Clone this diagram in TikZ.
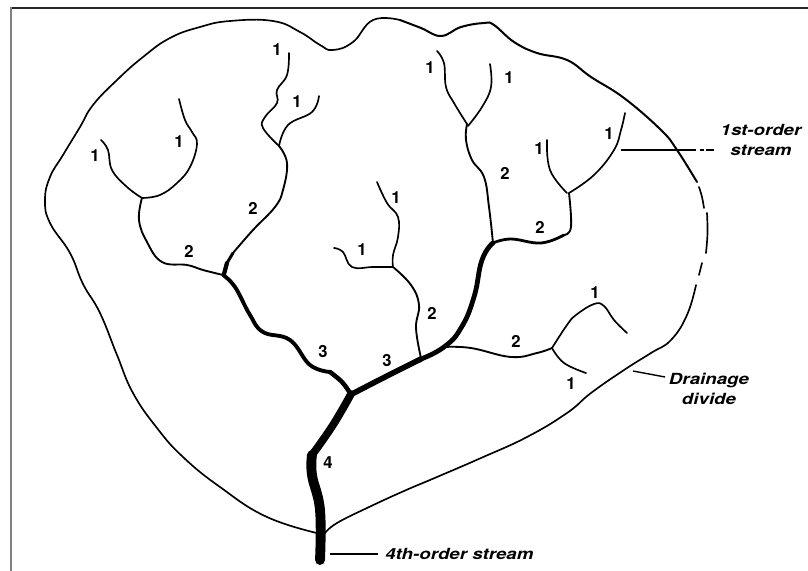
\documentclass[tikz,border=0pt]{standalone}
\usepackage{fontspec}
\setmainfont{TeX Gyre Heros}
\newfontfamily\widefont[FakeStretch=1.22]{TeX Gyre Heros}
\usetikzlibrary{positioning}

\begin{document}
\begin{tikzpicture}[x=0.75pt, y=-0.75pt, line join=round, line cap=round,
    divide/.style={line width=1.25pt},
    divideb/.style={line width=1.5pt},
    rill/.style={line width=1.25pt},
    brook/.style={line width=1.4pt},
    leader/.style={line width=1.05pt, line cap=butt},
    order/.style={font=\fontsize{12.5}{12.5}\selectfont\bfseries, inner sep=0pt},
    callout/.style={font=\fontsize{11.5}{15}\selectfont\widefont\bfseries\itshape, align=center, inner sep=0pt}]
    \useasboundingbox (0,0) rectangle (808,571);
    \fill[white] (0,0) rectangle (808,571);

    \draw[line width=1.5pt, black!85, line cap=butt] (10.5,7.5) -- (808,7.5);
    \draw[line width=1.4pt, black!50, line cap=butt] (11,7) -- (11,571);

    \draw[divide] plot[smooth, tension=0.75] coordinates {(321,534) (267,517) (220,487) (183,457) (157,428) (133,393) (117,355) (100,313) (83,284) (70,253) (50,223) (45,200) (50,177) (63,155) (80,127) (93,105) (117,80) (143,57) (170,38) (200,27) (230,21) (273,21) (300,32) (320,45) (333,50) (353,42) (373,20) (400,20)};
    \draw[divideb] plot[smooth, tension=0.7] coordinates {(400,20) (421,28) (441,36) (461,27) (484,23) (494,25) (514,42) (537,53) (567,60) (591,77) (624,98) (661,130) (677,150) (697,182)};
    \draw[divide] plot[smooth, tension=0.7] coordinates {(699,187) (702,197) (704,208)};
    \draw[divide] plot[smooth, tension=0.7] coordinates {(707,213) (707.5,233) (706,253)};
    \draw[divide] (702,263) -- (699,275);
    \draw[divide] plot[smooth, tension=0.75] coordinates {(696,285) (687,315) (671,340) (651,353) (624,370) (591,393) (567,413) (527,437) (481,458) (437,477) (404,491) (367,508) (337,523) (325,533)};

    \draw[rill] plot[smooth, tension=0.7] coordinates {(101,140) (108,150) (112,170) (127,187) (142,198)};
    \draw[rill] plot[smooth, tension=0.7] coordinates {(179,99) (185,120) (192,132) (197,144) (190,167) (177,183) (160,195) (142,198)};
    \draw[brook] plot[smooth, tension=0.7] coordinates {(142,198) (139,220) (147,242) (162,262) (187,265) (203,270) (223,275)};
    \draw[rill] plot[smooth, tension=0.7] coordinates {(289,53) (287,75) (277,90) (277,103) (265,117) (263,128) (279,146)};
    \draw[rill] plot[smooth, tension=0.7] coordinates {(319,96) (312,112) (288,125) (279,146)};
    \draw[brook] plot[smooth, tension=0.7] coordinates {(279,146) (287,163) (283,190) (275,207) (253,230) (233,253)};
    \draw[line width=2.2pt] (233,253) -- (227,263);
    \draw[line width=3.2pt] (227,263) -- (224,274);

    \draw[rill] plot[smooth, tension=0.7] coordinates {(377,182) (387,203) (398,217) (398,237) (393,255) (393,267)};
    \draw[rill] plot[smooth, tension=0.7] coordinates {(334,248) (343,252) (352,267) (373,267) (393,267)};
    \draw[brook] plot[smooth, tension=0.7] coordinates {(393,267) (411,285) (419,305) (416,328) (421,358)};

    \draw[rill] plot[smooth, tension=0.7] coordinates {(437,51) (444,63) (446,87) (454,103) (467,124)};
    \draw[rill] plot[smooth, tension=0.7] coordinates {(490,64) (491,87) (482,107) (468,126)};
    \draw[brook] plot[smooth, tension=0.7] coordinates {(467,124) (466,140) (472,160) (484,177) (489,207) (493,243)};
    \draw[rill] plot[smooth, tension=0.7] coordinates {(547,140) (550,170) (567,193)};
    \draw[rill] plot[smooth, tension=0.7] coordinates {(625,113) (621,130) (614,150) (594,175) (569,193)};
    \draw[brook] plot[smooth, tension=0.7] coordinates {(569,193) (571,227) (564,235)};
    \draw[line width=2.1pt] plot[smooth, tension=0.7] coordinates {(564,235) (541,243) (511,239) (493,243)};

    \draw[brook] plot[smooth, tension=0.7] coordinates {(444,347) (471,348) (511,357) (537,353) (552,348)};
    \draw[rill] plot[smooth, tension=0.7] coordinates {(552,348) (567,325) (576,315) (594,304) (604,306) (614,320) (627,333)};
    \draw[rill] plot[smooth, tension=0.7] coordinates {(552,348) (564,363) (586,373)};

    \draw[line width=2.9pt] plot[smooth, tension=0.7] coordinates {(223,275) (235,287) (250,315) (263,332) (290,340) (310,365) (330,372)};
    \draw[line width=3.4pt] plot[smooth, tension=0.7] coordinates {(330,372) (342,382) (350,393)};
    \draw[line width=4.2pt] plot[smooth, tension=0.7] coordinates {(352,394) (385,377) (421,359)};
    \draw[line width=3.6pt] plot[smooth, tension=0.8] coordinates {(421,359) (444,347) (461,328) (474,297) (482,260) (493,243)};
    \draw[line width=5.8pt] plot[smooth, tension=0.7] coordinates {(351,394) (333,425) (312,455)};
    \draw[line width=7.4pt] plot[smooth, tension=0.7] coordinates {(312,455) (312,475) (320,510) (320,560)};

    \node[order] (onea) at (277,50) {1};
    \node[order] (oneb) at (297,102) {1};
    \node[order] (onec) at (179,142) {1};
    \node[order] (oned) at (95,156) {1};
    \node[order] (twoa) at (253,208) {2};
    \node[order] (twob) at (189,251) {2};
    \node[order] (onee) at (396,198) {1};
    \node[order] (onef) at (362,250) {1};
    \node[order] (oneg) at (430,68) {1};
    \node[order] (oneh) at (509,78) {1};
    \node[order] (onei) at (609,134) {1};
    \node[order] (onej) at (539,149) {1};
    \node[order] (twoc) at (505,173) {2};
    \node[order] (twod) at (540,227) {2};
    \node[order] (twoe) at (432,313) {2};
    \node[order] (twof) at (516,341) {2};
    \node[order] (onek) at (595,293) {1};
    \node[order] (onel) at (571,384) {1};
    \node[order] (threea) at (323,352) {3};
    \node[order] (threeb) at (387,361) {3};
    \node[order] (foura) at (328,463) {4};

    \node[callout] (firstorder) at (761,140) {1st-order\\stream};
    \node[callout] (drainage) at (709,389) {Drainage\\divide};
    \node[callout, anchor=west] (fourthorder) at (385,554) {4th-order stream};

    \coordinate (firsttip) at (621,150);
    \coordinate (firstend) at (715,150);
    \coordinate (draintip) at (633,371);
    \coordinate (drainend) at (665,377);
    \draw[leader, dash pattern=on 56pt off 3pt on 3pt off 1.5pt on 6.5pt off 9pt] (firsttip) -- (firstend);
    \draw[leader] (draintip) -- (drainend);
    \draw[leader] (330,554) -- ([xshift=-5.25pt]fourthorder.west);
\end{tikzpicture}
\end{document}
